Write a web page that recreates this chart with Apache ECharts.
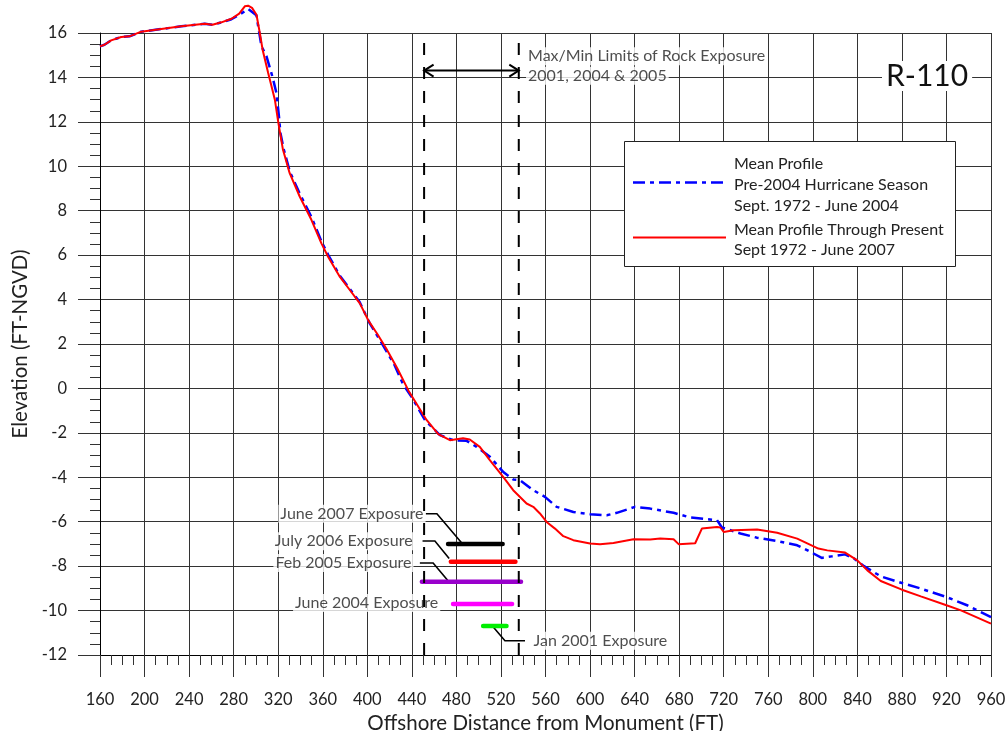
<!DOCTYPE html>
<html><head><meta charset="utf-8">
<script src="https://cdn.jsdelivr.net/npm/echarts@6/dist/echarts.min.js"></script>
<style>html,body{margin:0;padding:0;background:#fff}#c{width:1008px;height:731px}</style>
</head><body><div id="c"></div>
<script>
// ---- data ----
const distPre2004 = [160,164,170,179,186.5,197,215,233,254,261,269,278,285,293,300.4,305,309.5,315,318.4,320.7,322,324.8,330.5,339.5,350,359,365,375,384,393,402.2,414,424,432,440,451.7,465.2,477.1,489.2,498.2,510.1,522.1,531.1,537.1,549,559.5,570,585,600,615,624,640.4,654,675,690,714,718.4,735,750,768,786,798,808,817,829,837,846,861,880,897,920,938.5,960];
const elevPre2004 = [15.40,15.47,15.67,15.82,15.85,16.06,16.18,16.30,16.42,16.37,16.48,16.62,16.82,17.08,16.80,15.40,14.95,14.00,13.30,12.24,11.50,10.80,9.75,8.75,7.70,6.60,6.00,5.10,4.50,3.90,2.93,1.95,1.10,0.20,-0.40,-1.42,-2.10,-2.33,-2.36,-2.63,-3.08,-3.76,-4.10,-4.13,-4.58,-4.88,-5.33,-5.56,-5.66,-5.71,-5.60,-5.33,-5.41,-5.60,-5.81,-5.93,-6.26,-6.53,-6.72,-6.87,-7.06,-7.36,-7.63,-7.56,-7.47,-7.66,-8.00,-8.46,-8.76,-9.01,-9.39,-9.76,-10.29];
const distPresent = [160,164,170,179,186.5,197,215,233,254,261,269,278,285,290,293,296.5,300.5,303.5,306,311,314,317,320,324.3,330.3,339.3,349.8,358.8,364.8,375.3,384.3,393.3,401,409,417,427,437,453.2,463.7,474.2,486,492,501,510,522,531,543,549,555,561,568.5,576,585,600,609,621,639,654,663,675,679.5,694.4,700.4,714,717,720,729,750,768,786,805,813,829,840,849,861,880,897,920,933,960];
const elevPresent = [15.40,15.47,15.67,15.82,15.85,16.06,16.18,16.30,16.42,16.37,16.48,16.64,16.87,17.20,17.23,17.13,16.82,16.00,15.25,14.20,13.60,13.00,12.00,10.74,9.69,8.64,7.59,6.53,5.93,5.03,4.43,3.83,3.05,2.45,1.80,0.90,-0.10,-1.42,-2.06,-2.33,-2.24,-2.30,-2.63,-3.23,-3.98,-4.58,-5.18,-5.33,-5.63,-6.01,-6.31,-6.65,-6.83,-6.98,-7.01,-6.96,-6.79,-6.80,-6.76,-6.79,-7.01,-6.97,-6.31,-6.24,-6.26,-6.46,-6.38,-6.35,-6.50,-6.76,-7.21,-7.29,-7.39,-7.74,-8.19,-8.67,-9.06,-9.36,-9.76,-9.99,-10.59];
const exposureNames = ['June 2007 Exposure','July 2006 Exposure','Feb 2005 Exposure','June 2004 Exposure','Jan 2001 Exposure'];
const exposureStart = [472.5, 475, 449, 477, 504];
const exposureEnd   = [521.5, 533, 538, 530, 525];
const exposureElev  = [-7.0, -7.8, -8.7, -9.7, -10.7];
const exposureColors = ['#000000','#ff0000','#9900cc','#ff00ff','#00ee00'];
const rockLimits = [451, 536];
const xMin = 160, xMax = 960, xStep = 40;
const yMin = -12, yMax = 16, yStep = 2;
const seriesNames = ['Mean Profile Pre-2004 Hurricane Season Sept. 1972 - June 2004','Mean Profile Through Present Sept 1972 - June 2007'];
// annotation anchors (data coordinates)
const labelAnchors = [
  {text:'June 2007 Exposure', x:452.3, y:-5.64, pos:'left'},
  {text:'July 2006 Exposure', x:442.5, y:-6.88, pos:'left'},
  {text:'Feb 2005 Exposure',  x:441.5, y:-7.86, pos:'left'},
  {text:'June 2004 Exposure', x:465.5, y:-9.66, pos:'left'},
  {text:'Jan 2001 Exposure',  x:547.5, y:-11.36, pos:'right'},
  {text:'Max/Min Limits of Rock Exposure', x:542.5, y:14.95, pos:'right'},
  {text:'2001, 2004 & 2005', x:542.5, y:14.08, pos:'right'}
];
const leaderLines = [
  [[452.6,-5.64],[462.5,-5.64],[485,-6.97]],
  [[449.6,-6.87],[460.7,-6.87],[473.5,-7.66]],
  [[447.2,-7.86],[459.1,-7.86],[472.1,-8.64]],
  [[513.1,-10.74],[523.6,-11.36],[541.6,-11.36]]
];
const arrowY = 14.31;

// ---- chart ----
const chart = echarts.init(document.getElementById('c'), null, {renderer:'canvas'});
const FONT = 'Lato, "DejaVu Sans", sans-serif';
const gridColor = '#333';

const series = [];
series.push({
  type:'line', name:seriesNames[0], data: distPre2004.map((d,i)=>[d, elevPre2004[i]]),
  symbol:'none', smooth:false, z:3, clip:false,
  lineStyle:{color:'#0000ff', width:2.5, type:[12,5,4,5]}
});
series.push({
  type:'line', name:seriesNames[1], data: distPresent.map((d,i)=>[d, elevPresent[i]]),
  symbol:'none', smooth:false, z:4, clip:false,
  lineStyle:{color:'#ff0000', width:2}
});
exposureNames.forEach((n,i)=>{
  series.push({
    type:'line', name:n, data:[[exposureStart[i], exposureElev[i]],[exposureEnd[i], exposureElev[i]]],
    symbol:'none', z:5, lineStyle:{color:exposureColors[i], width:4.5, cap:'round'}
  });
});
rockLimits.forEach((x)=>{
  series.push({
    type:'line', data:[[x,15.55],[x,yMin]], symbol:'none', z:5,
    lineStyle:{color:'#000', width:2, type:[12,12]}
  });
});
series.push({
  type:'lines', coordinateSystem:'cartesian2d', polyline:true, z:5,
  lineStyle:{color:'#000', width:1.6, opacity:1},
  data: leaderLines.map(c=>({coords:c}))
});
series.push({
  type:'lines', coordinateSystem:'cartesian2d', polyline:true, z:6,
  lineStyle:{color:'#000', width:2, opacity:1},
  data: [
    {coords:[[rockLimits[0],arrowY],[rockLimits[1],arrowY]]},
    {coords:[[rockLimits[0]+8.5,arrowY+0.27],[rockLimits[0],arrowY],[rockLimits[0]+8.5,arrowY-0.27]]},
    {coords:[[rockLimits[1]-8.5,arrowY+0.27],[rockLimits[1],arrowY],[rockLimits[1]-8.5,arrowY-0.27]]}
  ]
});
series.push({
  type:'scatter', symbolSize:0, z:2, silent:true,
  data: labelAnchors.map(a=>({
    value:[a.x,a.y],
    label:{show:true, position:a.pos, distance:0, formatter:a.text,
      fontFamily:FONT, fontSize:16,
      color:'#222', backgroundColor:'#fff', padding:[1,2,1,2]}
  }))
});

const option = {
  animation:false,
  backgroundColor:'#fff',
  grid:{left:100, right:17, top:33, bottom:76, outerBoundsMode:'none', containLabel:false},
  xAxis:{
    type:'value', min:xMin, max:xMax, interval:xStep,
    name:'Offshore Distance from Monument (FT)', nameLocation:'middle', nameGap:53,
    nameTextStyle:{fontFamily:FONT, fontSize:20.5, color:'#222'},
    axisLine:{show:true, onZero:false, lineStyle:{color:'#000', width:1}},
    axisTick:{show:true, length:22, lineStyle:{color:gridColor}},
    minorTick:{show:true, splitNumber:4, length:10, lineStyle:{color:gridColor}},
    axisLabel:{margin:36, fontFamily:FONT, fontSize:16.5, color:'#222'},
    splitLine:{show:true, lineStyle:{color:gridColor, width:1}}
  },
  yAxis:{
    type:'value', min:yMin, max:yMax, interval:yStep,
    name:'Elevation (FT-NGVD)', nameLocation:'middle', nameGap:68,
    nameTextStyle:{fontFamily:FONT, fontSize:20.5, color:'#222'},
    axisLine:{show:true, onZero:false, lineStyle:{color:'#000', width:1}},
    axisTick:{show:true, length:22, lineStyle:{color:gridColor}},
    minorTick:{show:true, splitNumber:4, length:10, lineStyle:{color:gridColor}},
    axisLabel:{margin:33, fontFamily:FONT, fontSize:16.5, color:'#222'},
    splitLine:{show:true, lineStyle:{color:gridColor, width:1}}
  },
  graphic:[
    {type:'text', z:50, left:882, top:61, style:{text:'R-110', fontFamily:FONT, fontSize:30, fill:'#111', backgroundColor:'#fff', padding:[0,4]}},
    {type:'rect', z:50, shape:{x:624.5, y:141.5, width:331, height:125}, style:{fill:'#fff', stroke:'#222', lineWidth:1}},
    {type:'line', z:51, shape:{x1:633, y1:182.5, x2:726, y2:182.5}, style:{stroke:'#0000ff', lineWidth:2.5, lineDash:[12,5,4,5]}},
    {type:'line', z:51, shape:{x1:633, y1:237.5, x2:726, y2:237.5}, style:{stroke:'#ff0000', lineWidth:2}},
    {type:'text', z:51, left:734, top:155.5, style:{text:'Mean Profile', fontFamily:FONT, fontSize:16, fill:'#222'}},
    {type:'text', z:51, left:734, top:177, style:{text:'Pre-2004 Hurricane Season', fontFamily:FONT, fontSize:16, fill:'#222'}},
    {type:'text', z:51, left:734, top:197.5, style:{text:'Sept. 1972 - June 2004', fontFamily:FONT, fontSize:16, fill:'#222'}},
    {type:'text', z:51, left:734, top:221.5, style:{text:'Mean Profile Through Present', fontFamily:FONT, fontSize:16, fill:'#222'}},
    {type:'text', z:51, left:734, top:241.5, style:{text:'Sept 1972 - June 2007', fontFamily:FONT, fontSize:16, fill:'#222'}}
  ],
  series: series
};
chart.setOption(option);
</script></body></html>
